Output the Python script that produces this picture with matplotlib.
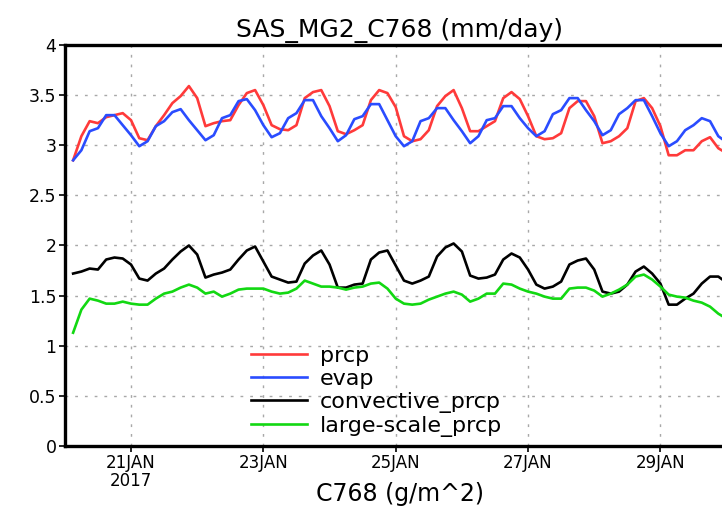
import numpy as np
import pandas as pd
import matplotlib
matplotlib.use('Agg')
import matplotlib.pyplot as plt

# 3-hourly area means, starting 2017-01-20 03Z
times = pd.date_range('2017-01-20 03:00', periods=80, freq='3h')

prcp = [2.85, 3.09, 3.24, 3.22, 3.28, 3.30, 3.32, 3.25, 3.07, 3.05,
        3.19, 3.30, 3.42, 3.49, 3.59, 3.47, 3.19, 3.22, 3.24, 3.25,
        3.40, 3.52, 3.55, 3.40, 3.20, 3.16, 3.15, 3.20, 3.47, 3.53,
        3.55, 3.39, 3.14, 3.11, 3.15, 3.20, 3.45, 3.55, 3.52, 3.38,
        3.09, 3.04, 3.06, 3.15, 3.39, 3.49, 3.55, 3.37, 3.14, 3.14,
        3.19, 3.24, 3.47, 3.53, 3.46, 3.29, 3.09, 3.06, 3.07, 3.12,
        3.37, 3.44, 3.44, 3.29, 3.02, 3.04, 3.09, 3.17, 3.44, 3.47,
        3.37, 3.19, 2.90, 2.90, 2.95, 2.95, 3.04, 3.08, 2.97, 2.92]

evap = [2.85, 2.95, 3.14, 3.17, 3.30, 3.30, 3.20, 3.10, 2.99, 3.04,
        3.19, 3.24, 3.33, 3.36, 3.25, 3.15, 3.05, 3.10, 3.27, 3.30,
        3.44, 3.46, 3.35, 3.20, 3.08, 3.12, 3.27, 3.32, 3.45, 3.45,
        3.29, 3.17, 3.04, 3.10, 3.26, 3.29, 3.41, 3.41, 3.25, 3.09,
        2.99, 3.04, 3.24, 3.27, 3.37, 3.37, 3.25, 3.14, 3.02, 3.09,
        3.25, 3.27, 3.39, 3.39, 3.27, 3.17, 3.09, 3.14, 3.31, 3.35,
        3.47, 3.47, 3.35, 3.24, 3.10, 3.15, 3.31, 3.37, 3.45, 3.45,
        3.29, 3.12, 2.99, 3.04, 3.15, 3.20, 3.27, 3.24, 3.09, 3.03]

conv_prcp = [1.72, 1.74, 1.77, 1.76, 1.86, 1.88, 1.87, 1.81, 1.67, 1.65,
             1.72, 1.77, 1.86, 1.94, 2.00, 1.91, 1.68, 1.71, 1.73, 1.76,
             1.86, 1.95, 1.99, 1.84, 1.69, 1.66, 1.63, 1.64, 1.82, 1.90,
             1.95, 1.81, 1.58, 1.58, 1.61, 1.62, 1.86, 1.93, 1.95, 1.80,
             1.65, 1.62, 1.65, 1.69, 1.89, 1.98, 2.02, 1.94, 1.70, 1.67,
             1.68, 1.71, 1.86, 1.92, 1.88, 1.76, 1.61, 1.57, 1.59, 1.64,
             1.81, 1.85, 1.87, 1.76, 1.54, 1.52, 1.54, 1.61, 1.74, 1.79,
             1.72, 1.62, 1.41, 1.41, 1.47, 1.52, 1.62, 1.69, 1.69, 1.63]

ls_prcp = [1.13, 1.36, 1.47, 1.45, 1.42, 1.42, 1.44, 1.42, 1.41, 1.41,
           1.47, 1.52, 1.54, 1.58, 1.61, 1.58, 1.52, 1.54, 1.49, 1.52,
           1.56, 1.57, 1.57, 1.57, 1.54, 1.52, 1.53, 1.57, 1.65, 1.62,
           1.59, 1.59, 1.58, 1.56, 1.58, 1.59, 1.62, 1.63, 1.57, 1.47,
           1.42, 1.41, 1.42, 1.46, 1.49, 1.52, 1.54, 1.51, 1.44, 1.47,
           1.52, 1.52, 1.62, 1.61, 1.57, 1.54, 1.52, 1.49, 1.47, 1.47,
           1.57, 1.58, 1.58, 1.55, 1.49, 1.52, 1.56, 1.61, 1.69, 1.71,
           1.66, 1.59, 1.51, 1.49, 1.48, 1.45, 1.43, 1.39, 1.32, 1.27]

series = [('prcp', prcp, '#ff3a3a'),
          ('evap', evap, '#2a4cff'),
          ('convective_prcp', conv_prcp, 'black'),
          ('large-scale_prcp', ls_prcp, '#12d812')]

tick_days = pd.to_datetime(['2017-01-21', '2017-01-23', '2017-01-25',
                            '2017-01-27', '2017-01-29'])
tick_labels = ['21JAN\n2017', '23JAN', '25JAN', '27JAN', '29JAN']
y_ticks = np.arange(0, 4.01, 0.5)
y_labels = ['0', '0.5', '1', '1.5', '2', '2.5', '3', '3.5', '4']

fig = plt.figure(figsize=(7.22, 5.07), dpi=100)
# the frame runs past the right edge of the page
ax = fig.add_axes([0.0898, 0.1203, 0.928, 0.791])

for name, vals, col in series:
    ax.plot(times, vals, color=col, lw=1.9, label=name)

ax.set_xlim(pd.Timestamp('2017-01-20 00:00'), pd.Timestamp('2017-01-30 03:00'))
ax.set_ylim(0, 4)
ax.set_xticks(tick_days)
ax.set_xticklabels(tick_labels, fontsize=12, linespacing=1.0)
ax.set_yticks(y_ticks)
ax.set_yticklabels(y_labels, fontsize=12.5)
ax.tick_params(axis='both', direction='out', length=4, width=1.2, pad=2)

ax.grid(True, color='#a8a8a8', lw=1.0, linestyle=(0, (2, 5)))
for side in ['left', 'bottom', 'top']:
    ax.spines[side].set_linewidth(2.4)
ax.spines['right'].set_visible(False)

ax.set_title('SAS_MG2_C768 (mm/day)', fontsize=18, pad=6)
ax.set_xlabel('C768 (g/m^2)', fontsize=17, labelpad=-6)

ax.legend(loc='upper left', bbox_to_anchor=(0.265, 0.272), frameon=False,
          fontsize=16, handlelength=2.5, handletextpad=0.6,
          labelspacing=0.14, borderaxespad=0)

fig.savefig('out.png', dpi=100)
